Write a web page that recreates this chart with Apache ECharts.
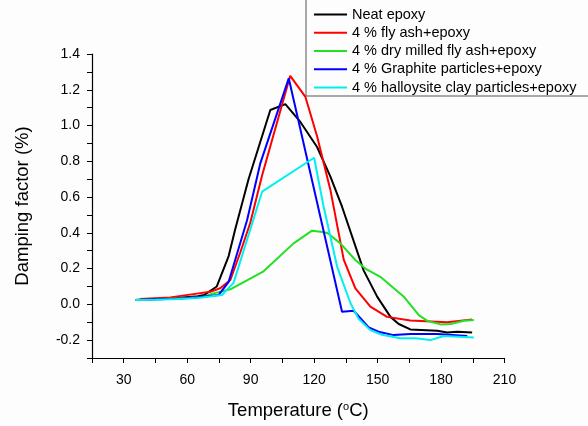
<!DOCTYPE html>
<html>
<head>
<meta charset="utf-8">
<script src="https://cdn.jsdelivr.net/npm/echarts@6/dist/echarts.min.js"></script>
<style>
  html, body { margin: 0; padding: 0; background: #fdfdfd; }
  #chart { width: 588px; height: 426px; }
</style>
</head>
<body>
<div id="chart"></div>
<script>
// Damping factor (tan δ, %) versus temperature (°C) for each composite
const seriesNames = [
  'Neat epoxy',
  '4 % fly ash+epoxy',
  '4 % dry milled fly ash+epoxy',
  '4 % Graphite particles+epoxy',
  '4 % halloysite clay particles+epoxy'
];

const neatEpoxy = [
  [35.4, 0.024], [45, 0.03], [55, 0.035], [65, 0.045], [68, 0.052], [74, 0.10],
  [79.6, 0.27], [82.7, 0.42], [89, 0.70], [99.3, 1.087], [106.4, 1.12],
  [113.5, 1.02], [121.4, 0.88], [127.7, 0.714], [133.2, 0.546], [143.4, 0.19],
  [149.8, 0.043], [156.1, -0.07], [160, -0.11], [165.5, -0.14], [178.2, -0.148],
  [182.9, -0.157], [187.6, -0.153], [194.7, -0.157]
];

const flyAsh = [
  [37.8, 0.03], [52, 0.039], [64.6, 0.06], [70.9, 0.07], [75.6, 0.09],
  [80.4, 0.136], [85, 0.287], [89.8, 0.455], [95.4, 0.72], [108.7, 1.278],
  [115.9, 1.16], [121.4, 0.94], [127.7, 0.64], [134, 0.25], [139.5, 0.09],
  [146.6, -0.013], [154.5, -0.07], [165.5, -0.09], [182.9, -0.1], [194.7, -0.084]
];

const dryMilledFlyAsh = [
  [35.4, 0.024], [50, 0.03], [60, 0.036], [67.7, 0.043], [72, 0.06],
  [80.4, 0.084], [96.1, 0.185], [110.3, 0.341], [119, 0.412], [124, 0.405],
  [126.5, 0.398], [132.4, 0.341], [139.5, 0.248], [144.2, 0.2], [151.3, 0.154],
  [162.4, 0.043], [169.5, -0.06], [173.5, -0.092], [179.7, -0.112],
  [184.5, -0.11], [190.8, -0.092], [195.5, -0.088]
];

const graphite = [
  [35.4, 0.024], [45, 0.028], [55, 0.032], [65, 0.04], [74.8, 0.052],
  [79.6, 0.126], [88.3, 0.47], [94.6, 0.79], [108, 1.264], [133.2, -0.041],
  [138.7, -0.036], [145.8, -0.129], [151, -0.155], [157.6, -0.172],
  [165.5, -0.166], [178.2, -0.166], [192.4, -0.177]
];

const halloysite = [
  [35.4, 0.024], [45, 0.026], [55, 0.03], [65, 0.036], [76.4, 0.052],
  [81.9, 0.12], [95.4, 0.63], [120, 0.82], [124.5, 0.546], [130.9, 0.21],
  [137.2, 0.006], [141, -0.08], [146.6, -0.144], [152, -0.17], [160.8, -0.19],
  [168, -0.19], [175, -0.2], [181.3, -0.177], [195.5, -0.185]
];

const seriesData = [neatEpoxy, flyAsh, dryMilledFlyAsh, graphite, halloysite];
const seriesColors = ['#000000', '#ff0000', '#22e022', '#0000ff', '#00f0f0'];

const fontFamily = '"Liberation Sans", Arial, sans-serif';

const chart = echarts.init(document.getElementById('chart'), null, { renderer: 'canvas' });

chart.setOption({
  backgroundColor: '#fdfdfd',
  animation: false,
  textStyle: { fontFamily: fontFamily },
  grid: { left: 92, right: 83.5, top: 54, bottom: 68 },
  legend: {
    data: seriesNames,
    orient: 'vertical',
    left: 306,
    top: -8,
    padding: [15, 30, 1, 8],
    icon: 'rect',
    itemWidth: 33,
    itemHeight: 2,
    itemGap: 3.25,
    borderColor: '#555555',
    borderWidth: 1,
    backgroundColor: '#fdfdfd',
    textStyle: { fontSize: 14.5, color: '#000', fontFamily: fontFamily, lineHeight: 15 }
  },
  xAxis: {
    type: 'value',
    min: 15,
    max: 210,
    interval: 15,
    name: 'Temperature ({sup|o}C)',
    nameLocation: 'middle',
    nameGap: 43,
    nameTextStyle: {
      fontSize: 18.5, color: '#000', fontFamily: fontFamily,
      rich: { sup: { fontSize: 11, verticalAlign: 'top', padding: [0, 0, 8, 0], color: '#000', fontFamily: fontFamily } }
    },
    axisLine: { onZero: false, lineStyle: { color: '#000', width: 1.2 } },
    axisTick: { inside: false, length: 5, lineStyle: { color: '#000' } },
    axisLabel: {
      margin: 15, fontSize: 14, color: '#000', fontFamily: fontFamily,
      formatter: v => (Math.round(v) % 30 === 0 ? String(Math.round(v)) : '')
    },
    splitLine: { show: false }
  },
  yAxis: {
    type: 'value',
    min: -0.3,
    max: 1.4,
    interval: 0.1,
    name: 'Damping factor (%)',
    nameLocation: 'middle',
    nameGap: 60,
    nameTextStyle: { fontSize: 18.5, color: '#000', fontFamily: fontFamily },
    axisLine: { show: true, onZero: false, lineStyle: { color: '#000', width: 1.2 } },
    axisTick: { show: true, inside: false, length: 5, lineStyle: { color: '#000' } },
    axisLabel: {
      margin: 12, fontSize: 14, color: '#000', fontFamily: fontFamily,
      formatter: v => {
        const k = Math.round(v * 10);
        return (k % 2 === 0) ? (k / 10).toFixed(1) : '';
      }
    },
    splitLine: { show: false }
  },
  series: seriesNames.map((name, i) => ({
    name: name,
    type: 'line',
    data: seriesData[i],
    symbol: 'none',
    color: seriesColors[i],
    lineStyle: { width: 2, color: seriesColors[i] }
  }))
});
</script>
</body>
</html>
